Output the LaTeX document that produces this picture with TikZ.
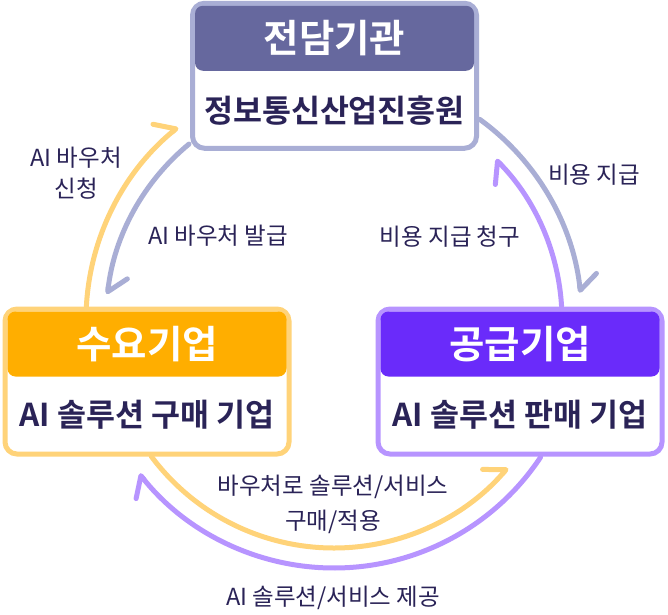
\documentclass[tikz,border=0pt]{standalone}
\usepackage{fontspec}
\setmainfont{Noto Sans CJK KR}[BoldFont={Noto Sans CJK KR Bold}]
\usetikzlibrary{arrows.meta,positioning}

\definecolor{ink}{HTML}{2A2357}
\definecolor{peri}{HTML}{A9AED5}
\definecolor{perihd}{HTML}{66689E}
\definecolor{yel}{HTML}{FFD379}
\definecolor{yelhd}{HTML}{FFAE00}
\definecolor{pur}{HTML}{B794FF}
\definecolor{purhd}{HTML}{6A2BFA}

\tikzset{
  box/.style={draw, line width=5pt, rounded corners=12pt, fill=white, outer sep=0pt,
    minimum width=284pt, minimum height=145pt},
  head/.style={rounded corners=8pt, inner sep=0pt, outer sep=0pt, text=white,
    minimum width=279pt, minimum height=65pt, font=\fontsize{38.5}{38.5}\selectfont\bfseries},
  body/.style={text=ink, inner sep=0pt, font=\fontsize{31.5}{31.5}\selectfont\bfseries},
  lbl/.style={text=ink, align=center, font=\fontsize{23.5}{33}\selectfont},
  flow/.style={line width=5pt, line cap=round,
    -{Straight Barb[left, round, length=15pt, width=36pt]}}
}

\begin{document}
\begin{tikzpicture}[x=1pt, y=1pt]
\useasboundingbox (0,0) rectangle (668,-614);
\fill[white] (0,0) rectangle (668,-614);

\coordinate (c) at (334,-320);

% arrows round the cycle
\draw[flow, yel] ([shift={(177:248pt)}]c) arc[start angle=177, end angle=129, radius=248pt];
\draw[flow, peri] ([shift={(129.5:228pt)}]c) arc[start angle=129.5, end angle=173.5, radius=228pt];
\draw[flow, peri] ([shift={(54:248pt)}]c) arc[start angle=54, end angle=6.3, radius=248pt];
\draw[flow, pur] ([shift={(3.5:228pt)}]c) arc[start angle=3.5, end angle=44.8, radius=228pt];
\draw[flow, yel] ([shift={(216.7:228pt)}]c) arc[start angle=216.7, end angle=319.6, radius=228pt];
\draw[flow, pur] ([shift={(-33.6:248pt)}]c) arc[start angle=-33.6, end angle=-141.7, radius=248pt];

% boxes
\node[box, draw=peri] (nipa) at (334.5,-75.75) {};
\node[head, fill=perihd, below=2.5pt of nipa.north] (nipahd) {전담기관};
\node[body] (nipatx) at ([yshift=38pt]nipa.south) {정보통신산업진흥원};

\node[box, draw=yel] (buyer) at (147,-381.5) {};
\node[head, fill=yelhd, below=2.5pt of buyer.north] (buyerhd) {수요기업};
\node[body] (buyertx) at ([yshift=39pt]buyer.south) {AI 솔루션 구매 기업};

\node[box, draw=pur] (seller) at (520,-381.5) {};
\node[head, fill=purhd, below=2.5pt of seller.north] (sellerhd) {공급기업};
\node[body] (sellertx) at ([yshift=39pt]seller.south) {AI 솔루션 판매 기업};

% labels
\node[lbl, font=\fontsize{23.5}{31}\selectfont] (apply) at (76,-173) {AI 바우처\\신청};
\node[lbl] (issue) at (218,-236) {AI 바우처 발급};
\node[lbl] (pay) at (594,-175) {비용 지급};
\node[lbl] (claim) at (450,-237) {비용 지급 청구};
\node[lbl, font=\fontsize{23.5}{35}\selectfont] (use) at (333,-504) {바우처로 솔루션/서비스\\구매/적용};
\node[lbl] (supply) at (333,-598) {AI 솔루션/서비스 제공};

\end{tikzpicture}
\end{document}
